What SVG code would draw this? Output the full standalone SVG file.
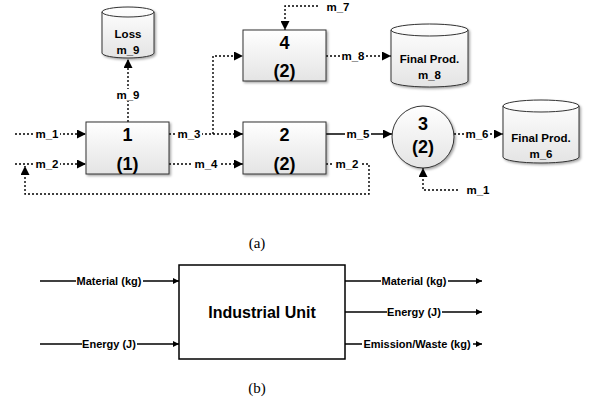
<svg xmlns="http://www.w3.org/2000/svg" width="589" height="405" viewBox="0 0 589 405">
<defs>
<linearGradient id="g" x1="0" y1="0" x2="0" y2="1"><stop offset="0" stop-color="#ffffff"/><stop offset="1" stop-color="#e4e4e4"/></linearGradient>
<filter id="sh" x="-10%" y="-10%" width="130%" height="130%"><feDropShadow dx="1.5" dy="1.5" stdDeviation="0.8" flood-color="#000" flood-opacity="0.35"/></filter>
<marker id="a" viewBox="0 0 10 10" refX="10" refY="5" markerWidth="10" markerHeight="9" markerUnits="userSpaceOnUse" orient="auto"><path d="M0,0 L10,5 L0,10 z" fill="#000"/></marker>
<marker id="b" viewBox="0 0 10 10" refX="10" refY="5" markerWidth="7" markerHeight="6" markerUnits="userSpaceOnUse" orient="auto"><path d="M0,0 L10,5 L0,10 z" fill="#000"/></marker>
</defs>
<style>
.node{fill:url(#g);stroke:#333;stroke-width:1;filter:url(#sh)}
.d{fill:none;stroke:#000;stroke-width:1.4;stroke-dasharray:2 2}
.s{fill:none;stroke:#000;stroke-width:1.4}
.big{font-family:"Liberation Sans",Arial,sans-serif;font-weight:bold;font-size:18px;text-anchor:middle;fill:#000}
.t{font-family:"Liberation Sans",Arial,sans-serif;font-weight:bold;font-size:11.5px;text-anchor:middle;fill:#000}
.lb{font-family:"Liberation Sans",Arial,sans-serif;font-weight:bold;font-size:11.5px;text-anchor:middle;fill:#000}
.lb2{font-family:"Liberation Sans",Arial,sans-serif;font-weight:bold;font-size:11px;text-anchor:middle;fill:#000}
.bg{fill:#fff}
.cap{font-family:"Liberation Serif","Times New Roman",serif;font-size:15px;text-anchor:middle;fill:#000}
</style>
<rect width="589" height="405" fill="#fff"/>

<g id="connectors">
<path class="d" d="M15,134 H86" marker-end="url(#a)"/>
<path class="d" d="M15,164 H86" marker-end="url(#a)"/>
<path class="d" d="M169,134 H243" marker-end="url(#a)"/>
<path class="d" d="M213,134 V56 H243" marker-end="url(#a)"/>
<path class="d" d="M169,164 H243" marker-end="url(#a)"/>
<path class="d" d="M128,122 V59" marker-end="url(#a)"/>
<path class="d" d="M318,6 H285 V30" marker-end="url(#a)"/>
<path class="d" d="M326,56 H391" marker-end="url(#a)"/>
<path class="s" d="M326,134 H392" marker-end="url(#a)"/>
<path class="d" d="M326,164 H369 V194 H25 V166" marker-end="url(#a)"/>
<path class="d" d="M454,134 H503" marker-end="url(#a)"/>
<path class="d" d="M458,190 H423 V168" marker-end="url(#a)"/>
<rect class="bg" x="34" y="128" width="26" height="12"/><text class="lb" x="47" y="138">m_1</text>
<rect class="bg" x="34" y="158" width="26" height="12"/><text class="lb" x="47" y="168">m_2</text>
<rect class="bg" x="176" y="128" width="26" height="12"/><text class="lb" x="189" y="138">m_3</text>
<rect class="bg" x="193" y="158" width="26" height="12"/><text class="lb" x="206" y="168">m_4</text>
<rect class="bg" x="115" y="89" width="26" height="12"/><text class="lb" x="128" y="99">m_9</text>
<text class="lb" x="338" y="11">m_7</text>
<rect class="bg" x="340" y="50" width="26" height="12"/><text class="lb" x="353" y="60">m_8</text>
<rect class="bg" x="345" y="128" width="26" height="12"/><text class="lb" x="358" y="138">m_5</text>
<rect class="bg" x="334" y="158" width="26" height="12"/><text class="lb" x="347" y="168">m_2</text>
<rect class="bg" x="464" y="128" width="26" height="12"/><text class="lb" x="477" y="138">m_6</text>
<text class="lb" x="478" y="194">m_1</text>

<path class="s" d="M40,281 H179" marker-end="url(#b)"/>
<path class="s" d="M40,344 H179" marker-end="url(#b)"/>
<path class="s" d="M345,281 H482" marker-end="url(#b)"/>
<path class="s" d="M345,312 H482" marker-end="url(#b)"/>
<path class="s" d="M345,344 H482" marker-end="url(#b)"/>
<rect class="bg" x="76" y="275" width="67" height="12"/><text class="lb2" x="109" y="285">Material (kg)</text>
<rect class="bg" x="82" y="338" width="55" height="12"/><text class="lb2" x="109" y="348">Energy (J)</text>
<rect class="bg" x="381" y="275" width="67" height="12"/><text class="lb2" x="414" y="285">Material (kg)</text>
<rect class="bg" x="387" y="306" width="55" height="12"/><text class="lb2" x="414" y="316">Energy (J)</text>
<rect class="bg" x="362" y="338" width="111" height="12"/><text class="lb2" x="417" y="348">Emission/Waste (kg)</text>
</g>

<g id="node1">
<rect class="node" x="86" y="122" width="83" height="52"/>
<text class="big" x="127.5" y="141">1</text>
<text class="big" x="127.5" y="170">(1)</text>
</g>
<g id="node2">
<rect class="node" x="243" y="122" width="83" height="52"/>
<text class="big" x="284.5" y="141">2</text>
<text class="big" x="284.5" y="170">(2)</text>
</g>
<g id="node4">
<rect class="node" x="243" y="30" width="83" height="51"/>
<text class="big" x="284.5" y="49">4</text>
<text class="big" x="284.5" y="77">(2)</text>
</g>
<g id="node3">
<circle class="node" cx="423" cy="137" r="31"/>
<text class="big" x="423" y="130">3</text>
<text class="big" x="423" y="153">(2)</text>
</g>
<g id="loss">
<path class="node" d="M102,12 A26,5 0 0,1 154,12 V53 A26,5 0 0,1 102,53 Z"/>
<path fill="none" stroke="#333" d="M102,12 A26,5 0 0,0 154,12"/>
<text class="t" x="128" y="38">Loss</text>
<text class="t" x="128" y="54">m_9</text>
</g>
<g id="final8">
<path class="node" d="M391,30 A38.5,6 0 0,1 468,30 V81 A38.5,6 0 0,1 391,81 Z"/>
<path fill="none" stroke="#333" d="M391,30 A38.5,6 0 0,0 468,30"/>
<text class="t" x="429.5" y="63">Final Prod.</text>
<text class="t" x="429.5" y="79">m_8</text>
</g>
<g id="final6">
<path class="node" d="M503,106 A38,6 0 0,1 579,106 V157 A38,6 0 0,1 503,157 Z"/>
<path fill="none" stroke="#333" d="M503,106 A38,6 0 0,0 579,106"/>
<text class="t" x="541" y="142">Final Prod.</text>
<text class="t" x="541" y="158">m_6</text>
</g>
<text class="cap" x="257" y="248">(a)</text>

<g id="unit">
<rect x="179" y="265" width="166" height="94" fill="#fff" stroke="#000" stroke-width="1.5"/>
<text x="262" y="318" font-family="Liberation Sans, Arial, sans-serif" font-weight="bold" font-size="16" text-anchor="middle">Industrial Unit</text>
</g>
<text class="cap" x="257" y="393">(b)</text>
</svg>
